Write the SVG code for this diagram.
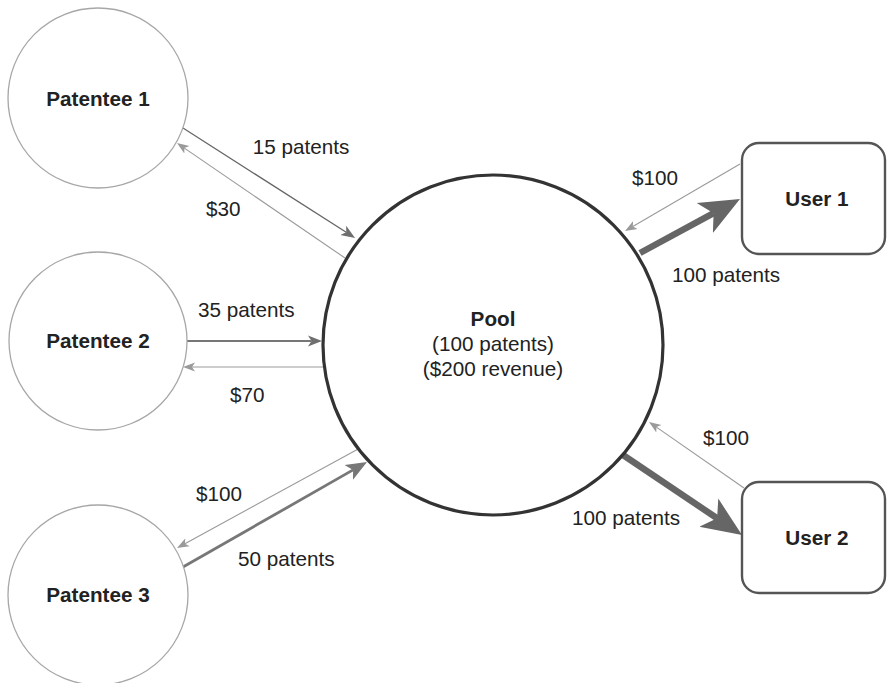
<svg xmlns="http://www.w3.org/2000/svg" width="887" height="683" viewBox="0 0 887 683">
<style>
.pat{fill:#fff;stroke:#a7a7a7;stroke-width:1.3}
.pool{fill:#fff;stroke:#333;stroke-width:3.2}
.user{fill:#fff;stroke:#555;stroke-width:2.4}
.nl{font-family:"Liberation Sans",Arial,sans-serif;font-size:20.7px;font-weight:bold;fill:#222;text-anchor:middle}
.pl{font-family:"Liberation Sans",Arial,sans-serif;font-size:20.7px;fill:#222;text-anchor:middle}
.el{font-family:"Liberation Sans",Arial,sans-serif;font-size:20.7px;fill:#222}
.money{stroke:#9a9a9a;stroke-width:1.1;fill:none}
.p15{stroke:#666;stroke-width:1.3;fill:none}
.p35{stroke:#777;stroke-width:2.2;fill:none}
.p50{stroke:#777;stroke-width:2.8;fill:none}
.pu{stroke:#666;stroke-width:6.5;fill:none}
</style>
<defs>
<marker id="mThin" markerUnits="userSpaceOnUse" markerWidth="14" markerHeight="12" viewBox="0 -6 14 12" refX="3" refY="0" orient="auto"><path d="M0,-4.5 L12,0 L0,4.5 L3,0 z" fill="#9a9a9a"/></marker>
<marker id="mMed" markerUnits="userSpaceOnUse" markerWidth="16" markerHeight="14" viewBox="0 -7 16 14" refX="3.5" refY="0" orient="auto"><path d="M0,-5.5 L14,0 L0,5.5 L3.5,0 z" fill="#6f6f6f"/></marker>
<marker id="mBig" markerUnits="userSpaceOnUse" markerWidth="24" markerHeight="20" viewBox="0 -10 24 20" refX="5" refY="0" orient="auto"><path d="M0,-8.5 L21,0 L0,8.5 L5,0 z" fill="#777"/></marker>
<marker id="mHuge" markerUnits="userSpaceOnUse" markerWidth="42" markerHeight="40" viewBox="0 -20 42 40" refX="10" refY="0" orient="auto"><path d="M0,-17 L40,0 L0,17 L10,0 z" fill="#666"/></marker>
</defs>
<g id="connectors">
<line class="p15" x1="183" y1="128" x2="346.2" y2="232.3" marker-end="url(#mMed)"/>
<line class="money" x1="345" y1="258" x2="184.4" y2="148.1" marker-end="url(#mThin)"/>
<line class="p35" x1="187" y1="341" x2="311.5" y2="341" marker-end="url(#mMed)"/>
<line class="money" x1="325" y1="367" x2="192" y2="367" marker-end="url(#mThin)"/>
<line class="money" x1="360" y1="448" x2="184.9" y2="543.7" marker-end="url(#mThin)"/>
<line class="p50" x1="183" y1="567" x2="353.1" y2="469.9" marker-end="url(#mBig)"/>
<line class="money" x1="740" y1="164" x2="632.8" y2="226.5" marker-end="url(#mThin)"/>
<line class="pu" x1="640" y1="253" x2="713.6" y2="213.2" marker-end="url(#mHuge)"/>
<line class="money" x1="744" y1="488" x2="656.4" y2="427.1" marker-end="url(#mThin)"/>
<line class="pu" x1="623" y1="455" x2="717.1" y2="518.3" marker-end="url(#mHuge)"/>
<text class="el" x="252.7" y="154">15 patents</text>
<text class="el" x="206" y="216">$30</text>
<text class="el" x="198" y="317">35 patents</text>
<text class="el" x="230" y="402">$70</text>
<text class="el" x="196" y="501">$100</text>
<text class="el" x="238" y="566">50 patents</text>
<text class="el" x="632" y="185">$100</text>
<text class="el" x="672" y="282">100 patents</text>
<text class="el" x="703" y="445">$100</text>
<text class="el" x="572" y="525">100 patents</text>
</g>
<g id="patentee1"><circle class="pat" cx="98" cy="98" r="90"/><text class="nl" x="98" y="106">Patentee 1</text></g>
<g id="patentee2"><circle class="pat" cx="98" cy="341" r="89"/><text class="nl" x="98" y="348">Patentee 2</text></g>
<g id="patentee3"><circle class="pat" cx="98" cy="595" r="90"/><text class="nl" x="98" y="602">Patentee 3</text></g>
<g id="pool"><circle class="pool" cx="493" cy="345" r="170"/>
<text class="nl" x="493" y="326">Pool</text>
<text class="pl" x="493" y="351">(100 patents)</text>
<text class="pl" x="493" y="376">($200 revenue)</text></g>
<g id="user1"><rect class="user" x="742" y="143" width="143" height="111" rx="17"/><text class="nl" x="817" y="206">User 1</text></g>
<g id="user2"><rect class="user" x="742" y="482" width="143" height="111" rx="17"/><text class="nl" x="817" y="545">User 2</text></g>
</svg>
